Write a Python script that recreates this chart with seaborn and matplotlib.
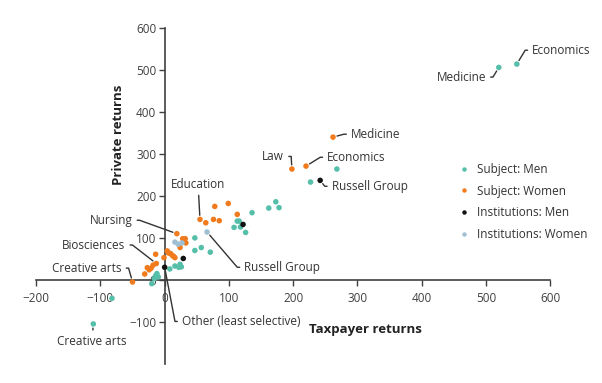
import math

import matplotlib
matplotlib.use("Agg")
import matplotlib.pyplot as plt
import matplotlib.text as mtext
import numpy as np
import pandas as pd
import seaborn as sns

# Subject: Men
men_x = [-111, -82, -20, -16, -12, -10, -14, 8, 16, 22, 24, 26, 47, 57, 71, 47,
         108, 113, 116, 118, 126, 136, 162, 173, 178, 227, 268, 520, 548]
men_y = [-105, -44, -9, 3, 15, 7, 10, 26, 33, 30, 37, 31, 70, 77, 66, 100,
         125, 140, 140, 126, 113, 160, 171, 186, 172, 233, 264, 506, 514]

# Subject: Women
women_x = [-50, -31, -27, -24, -21, -18, -13, -14, -1, 4, 6, 9, 12, 14, 16, 19, 24, 28, 32,
           33, 55, 64, 76, 85, 78, 99, 113, 198, 220, 262]
women_y = [-5, 14, 29, 24, 28, 35, 39, 61, 53, 69, 64, 63, 58, 56, 53, 110, 77, 98, 98,
           88, 144, 136, 144, 141, 175, 182, 156, 264, 271, 340]

# Institutions
inst_men_x = [0, 29, 122, 242]
inst_men_y = [30, 51, 132, 237]
inst_women_x = [16, 21, 27, 66]
inst_women_y = [90, 85, 88, 114]

groups = ["Subject: Men", "Subject: Women", "Institutions: Men", "Institutions: Women"]
palette = ["#56bfa9", "#f07a1c", "#111111", "#9fc0d3"]

# label, point, text position, alignment
labels = [
    ("Economics", (548, 514), (572, 547), "left"),
    ("Medicine", (520, 506), (500, 483), "right"),
    ("Medicine", (262, 340), (290, 347), "left"),
    ("Economics", (220, 271), (253, 292), "left"),
    ("Law", (198, 264), (186, 294), "right"),
    ("Russell Group", (242, 237), (260, 223), "left"),
    ("Education", (55, 144), (52, 228), "center"),
    ("Nursing", (19, 110), (-50, 142), "right"),
    ("Biosciences", (-13, 39), (-61, 83), "right"),
    ("Creative arts", (-50, -5), (-67, 28), "right"),
    ("Russell Group", (66, 114), (124, 30), "left"),
    ("Other (least selective)", (0, 30), (27, -99), "left"),
    ("Creative arts", (-111, -105), (-113, -146), "center"),
]

df = pd.concat([
    pd.DataFrame({"x": men_x, "y": men_y, "group": groups[0]}),
    pd.DataFrame({"x": women_x, "y": women_y, "group": groups[1]}),
    pd.DataFrame({"x": inst_men_x, "y": inst_men_y, "group": groups[2]}),
    pd.DataFrame({"x": inst_women_x, "y": inst_women_y, "group": groups[3]}),
])

sns.set_theme(style="white")
plt.rcParams["font.family"] = ["Open Sans", "DejaVu Sans"]

fig = plt.figure(figsize=(6.02, 3.83), dpi=100)
ax = fig.add_axes([0.06, 0.05, 0.854, 0.877])

sns.scatterplot(data=df, x="x", y="y", hue="group", hue_order=groups,
                palette=palette, s=16, linewidth=0, ax=ax, zorder=3)

ax.set_xlim(-200, 600)
ax.set_ylim(-200, 600)
ax.set_xticks(range(-200, 601, 100))
ax.set_yticks(range(-100, 601, 100))

for side in ["top", "right"]:
    ax.spines[side].set_visible(False)
ax.spines["left"].set_position(("data", 0))
ax.spines["bottom"].set_position(("data", 0))
for side in ["left", "bottom"]:
    ax.spines[side].set_color("#404040")
    ax.spines[side].set_linewidth(1.2)
ax.tick_params(axis="both", direction="out", length=4, width=1, color="#404040",
               labelsize=8.5, labelcolor="#404040", pad=2, left=True, bottom=True)
ax.tick_params(axis="x", pad=5)

ax.set_xlabel("")
ax.set_ylabel("")
ax.text(312, -118, "Taxpayer returns", fontsize=9.5, fontweight="bold",
        color="#222222", ha="center", va="center")
ax.text(-72, 345, "Private returns", fontsize=9.5, fontweight="bold",
        color="#222222", ha="center", va="center", rotation=90)

anns = []
for text, pt, pos, ha in labels:
    relpos = {"left": (0, 0.5), "right": (1, 0.5), "center": (0.5, 0.5)}[ha]
    a = ax.annotate(text, xy=pt, xytext=pos, ha=ha, va="center", fontsize=8.5,
                    color="#333333",
                    arrowprops=dict(arrowstyle="-", color="#333333", lw=1,
                                    shrinkA=1, shrinkB=3, relpos=relpos))
    anns.append((a, pt, ha))

# excel-style leader lines: short horizontal stub at the label, then straight to the point
fig.canvas.draw()
renderer = fig.canvas.get_renderer()
for a, pt, ha in anns:
    if ha == "center":
        continue
    bb = mtext.Text.get_window_extent(a, renderer)
    ya = (bb.y0 + bb.y1) / 2
    xs = bb.x0 - 7 if ha == "left" else bb.x1 + 7
    xb, yb = ax.transData.transform(pt)
    theta = math.degrees(math.atan2(ya - yb, xs - xb))
    a.arrow_patch.set_connectionstyle(f"angle,angleA=0,angleB={theta:.1f},rad=0")

leg = ax.legend(loc="upper left", bbox_to_anchor=(0.80, 0.613), frameon=False,
                fontsize=8.5, handletextpad=0.1, markerscale=0.8,
                labelspacing=0.75, borderaxespad=0)
for t in leg.get_texts():
    t.set_color("#333333")

fig.savefig("out.png", dpi=100)
